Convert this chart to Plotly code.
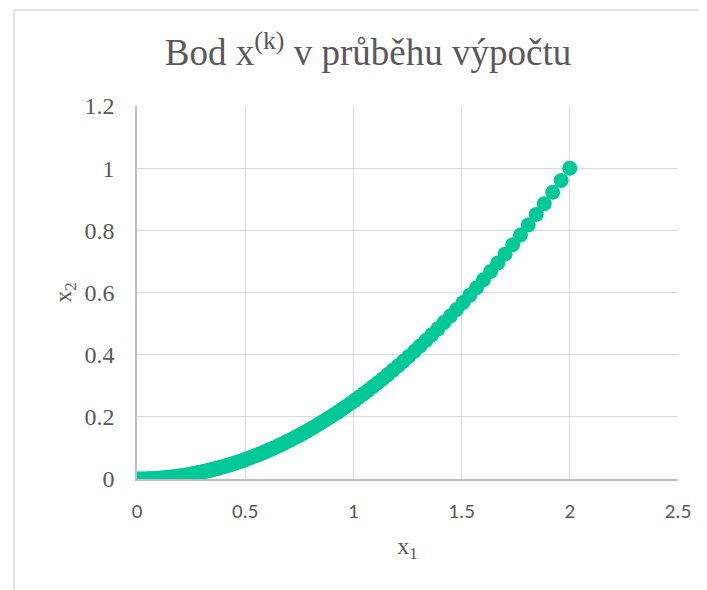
import plotly.graph_objects as go

x1 = [2.000, 1.960, 1.921, 1.882, 1.845, 1.808, 1.772, 1.736, 1.701, 1.667,
      1.634, 1.601, 1.569, 1.538, 1.507, 1.477, 1.448, 1.419, 1.390, 1.362,
      1.335, 1.308, 1.282, 1.256, 1.231, 1.207, 1.183, 1.159, 1.136, 1.113,
      1.091, 1.069, 1.048, 1.027, 1.006, 0.986, 0.966, 0.947, 0.928, 0.909,
      0.891, 0.873, 0.856, 0.839, 0.822, 0.806, 0.789, 0.774, 0.758, 0.743,
      0.728, 0.714, 0.699, 0.685, 0.672, 0.658, 0.645, 0.632, 0.619, 0.607,
      0.595, 0.583, 0.571, 0.560, 0.549, 0.538, 0.527, 0.516, 0.506, 0.496,
      0.486, 0.476, 0.467, 0.457, 0.448, 0.439, 0.430, 0.422, 0.413, 0.405,
      0.397, 0.389, 0.381, 0.374, 0.366, 0.359, 0.352, 0.345, 0.338, 0.331,
      0.325, 0.318, 0.312, 0.306, 0.299, 0.293, 0.288, 0.282, 0.276, 0.271,
      0.265, 0.260, 0.255, 0.250, 0.240, 0.230, 0.220, 0.210, 0.200, 0.190,
      0.180, 0.170, 0.160, 0.150, 0.140, 0.130, 0.120, 0.110, 0.100, 0.090,
      0.080, 0.070, 0.060, 0.050, 0.040, 0.030, 0.020, 0.010, 0.000]

x2 = [1.0000, 0.9604, 0.9226, 0.8855, 0.8510, 0.8172, 0.7850, 0.7534, 0.7233, 0.6947,
      0.6675, 0.6408, 0.6154, 0.5914, 0.5678, 0.5454, 0.5242, 0.5034, 0.4830, 0.4638,
      0.4456, 0.4277, 0.4109, 0.3944, 0.3788, 0.3642, 0.3499, 0.3358, 0.3226, 0.3097,
      0.2976, 0.2857, 0.2746, 0.2637, 0.2530, 0.2431, 0.2333, 0.2242, 0.2153, 0.2066,
      0.1985, 0.1905, 0.1832, 0.1760, 0.1689, 0.1624, 0.1556, 0.1498, 0.1436, 0.1380,
      0.1325, 0.1274, 0.1222, 0.1173, 0.1129, 0.1082, 0.1040, 0.0999, 0.0958, 0.0921,
      0.0885, 0.0850, 0.0815, 0.0784, 0.0754, 0.0724, 0.0694, 0.0666, 0.0640, 0.0615,
      0.0591, 0.0566, 0.0545, 0.0522, 0.0502, 0.0482, 0.0462, 0.0445, 0.0426, 0.0410,
      0.0394, 0.0378, 0.0363, 0.0350, 0.0335, 0.0322, 0.0310, 0.0298, 0.0286, 0.0274,
      0.0264, 0.0253, 0.0243, 0.0234, 0.0224, 0.0215, 0.0207, 0.0199, 0.0190, 0.0184,
      0.0176, 0.0169, 0.0163, 0.0156, 0.0144, 0.0132, 0.0121, 0.0110, 0.0100, 0.0090,
      0.0081, 0.0072, 0.0064, 0.0056, 0.0049, 0.0042, 0.0036, 0.0030, 0.0025, 0.0020,
      0.0016, 0.0012, 0.0009, 0.0006, 0.0004, 0.0002, 0.0001, 0.0000, 0.0000]

x_ticks = [0, 0.5, 1, 1.5, 2, 2.5]
x_tick_labels = ["0", "0.5", "1", "1.5", "2", "2.5"]
y_ticks = [0, 0.2, 0.4, 0.6, 0.8, 1, 1.2]
y_tick_labels = ["0", "0.2", "0.4", "0.6", "0.8", "1", "1.2"]

title_text = "Bod x<sup>(k)</sup> v průběhu výpočtu"
x_title = "x<sub>1</sub>"
y_title = "x<sub>2</sub>"

serif = "Liberation Serif, Times New Roman, serif"
sans = "Carlito, Liberation Sans, Arial, sans-serif"
grey_text = "#595959"

# The page body adds an 8px margin; figure is sized to compensate.
W, H = 699, 582
L, R, T, B = 129, 29, 98, 111
PW, PH = W - L - R, H - T - B

fig = go.Figure()
fig.add_trace(go.Scatter(
    x=x1, y=x2, mode="markers",
    marker=dict(color="#00C896", size=15, line=dict(width=0)),
    showlegend=False, hoverinfo="x+y",
))

fig.update_layout(
    width=W, height=H,
    margin=dict(l=L, r=R, t=T, b=B),
    paper_bgcolor="white", plot_bgcolor="white",
    title=dict(text=title_text, x=360 / W, xanchor="center", y=1 - 44 / H, yanchor="middle",
               font=dict(family=serif, size=37, color=grey_text)),
    xaxis=dict(range=[0, 2.5], tickvals=x_ticks, ticktext=x_tick_labels,
               showgrid=True, gridcolor="#d9d9d9", gridwidth=1,
               zeroline=False, showline=True, linecolor="#bfbfbf", linewidth=1.5,
               ticks="", ticklabelstandoff=12,
               tickfont=dict(family=sans, size=21, color=grey_text),
               title=dict(text=x_title, font=dict(family=serif, size=24, color=grey_text), standoff=14),
               fixedrange=True),
    yaxis=dict(range=[0, 1.2], tickvals=y_ticks, ticktext=y_tick_labels,
               showgrid=True, gridcolor="#d9d9d9", gridwidth=1,
               zeroline=False, showline=True, linecolor="#bfbfbf", linewidth=1.5,
               ticks="", ticklabelstandoff=16,
               tickfont=dict(family=serif, size=24, color=grey_text),
               title=dict(text=y_title, font=dict(family=serif, size=24, color=grey_text), standoff=6),
               fixedrange=True),
)

# Outer chart frame (top and left edges visible)
fx0 = (6 - L) / PW
fx1 = (W - L) / PW
fy_top = (H - B - 2) / PH
fy_bot = (H - B - H) / PH
fig.add_shape(type="line", xref="paper", yref="paper",
              x0=fx0, x1=fx1, y0=fy_top, y1=fy_top,
              line=dict(color="#d9d9d9", width=1.5))
fig.add_shape(type="line", xref="paper", yref="paper",
              x0=fx0, x1=fx0, y0=fy_top, y1=fy_bot,
              line=dict(color="#d9d9d9", width=1.5))

fig.write_html("out.html")
